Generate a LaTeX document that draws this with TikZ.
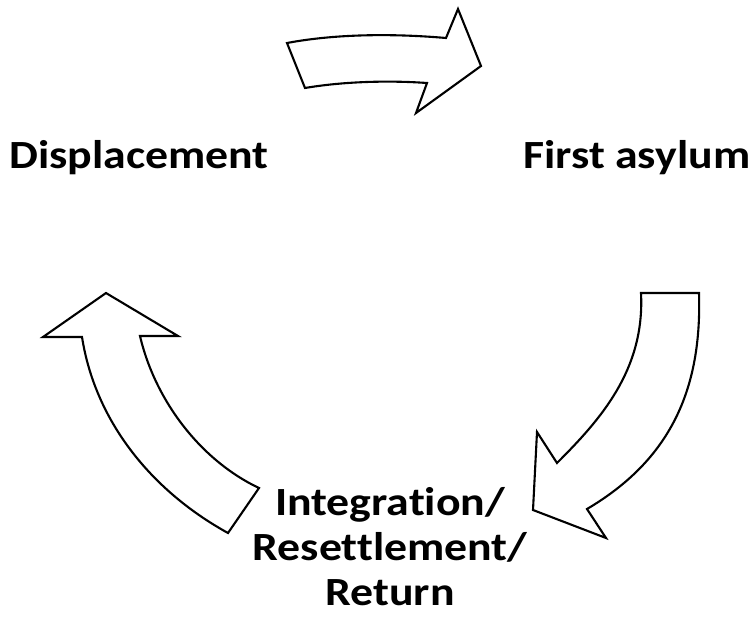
\documentclass[tikz,border=0pt]{standalone}
\usepackage{fontspec}
\setmainfont{Carlito}[Ligatures=NoCommon]
\usepackage{tikz}
\usetikzlibrary{positioning}

\tikzset{
  cyclearrow/.style={draw=black, fill=white, line width=2.1pt, line join=miter},
  stagelabel/.style={font=\fontsize{40}{45}\selectfont\bfseries, inner sep=0pt, xscale=1.145, align=center}
}

\begin{document}
\begin{tikzpicture}[x=1pt, y=-1pt]
\useasboundingbox (0,0) rectangle (755,616);
% Stage labels
\node[stagelabel, anchor=base west] (displacement) at (9,168) {Displacement};
\node[stagelabel, anchor=base west] (asylum) at (523,168) {First asylum};
\node[stagelabel, anchor=north] (settle) at (390,487) {Integration/\\Resettlement/\\Return};
% Displacement to first asylum (top)
\draw[cyclearrow] (287,43) .. controls (340,33) and (400,34) .. (446,38) -- (458,9) -- (481,66)
  -- (416,113) -- (427,83) .. controls (385,80) and (340,82) .. (305,88) -- cycle;
% First asylum to integration (right)
\draw[cyclearrow] (641,293) -- (699,293) .. controls (702,390) and (670,460) .. (587,509)
  -- (606,538) -- (533,510) -- (537,432) -- (557,463) .. controls (600,420) and (645,370) .. (641,293) -- cycle;
% Integration back to displacement (left)
\draw[cyclearrow] (106,293) -- (178,336) -- (140,336) .. controls (155,400) and (200,460) .. (259,488)
  -- (228,533) .. controls (150,490) and (95,420) .. (82,337) -- (43,337) -- cycle;
\end{tikzpicture}
\end{document}
